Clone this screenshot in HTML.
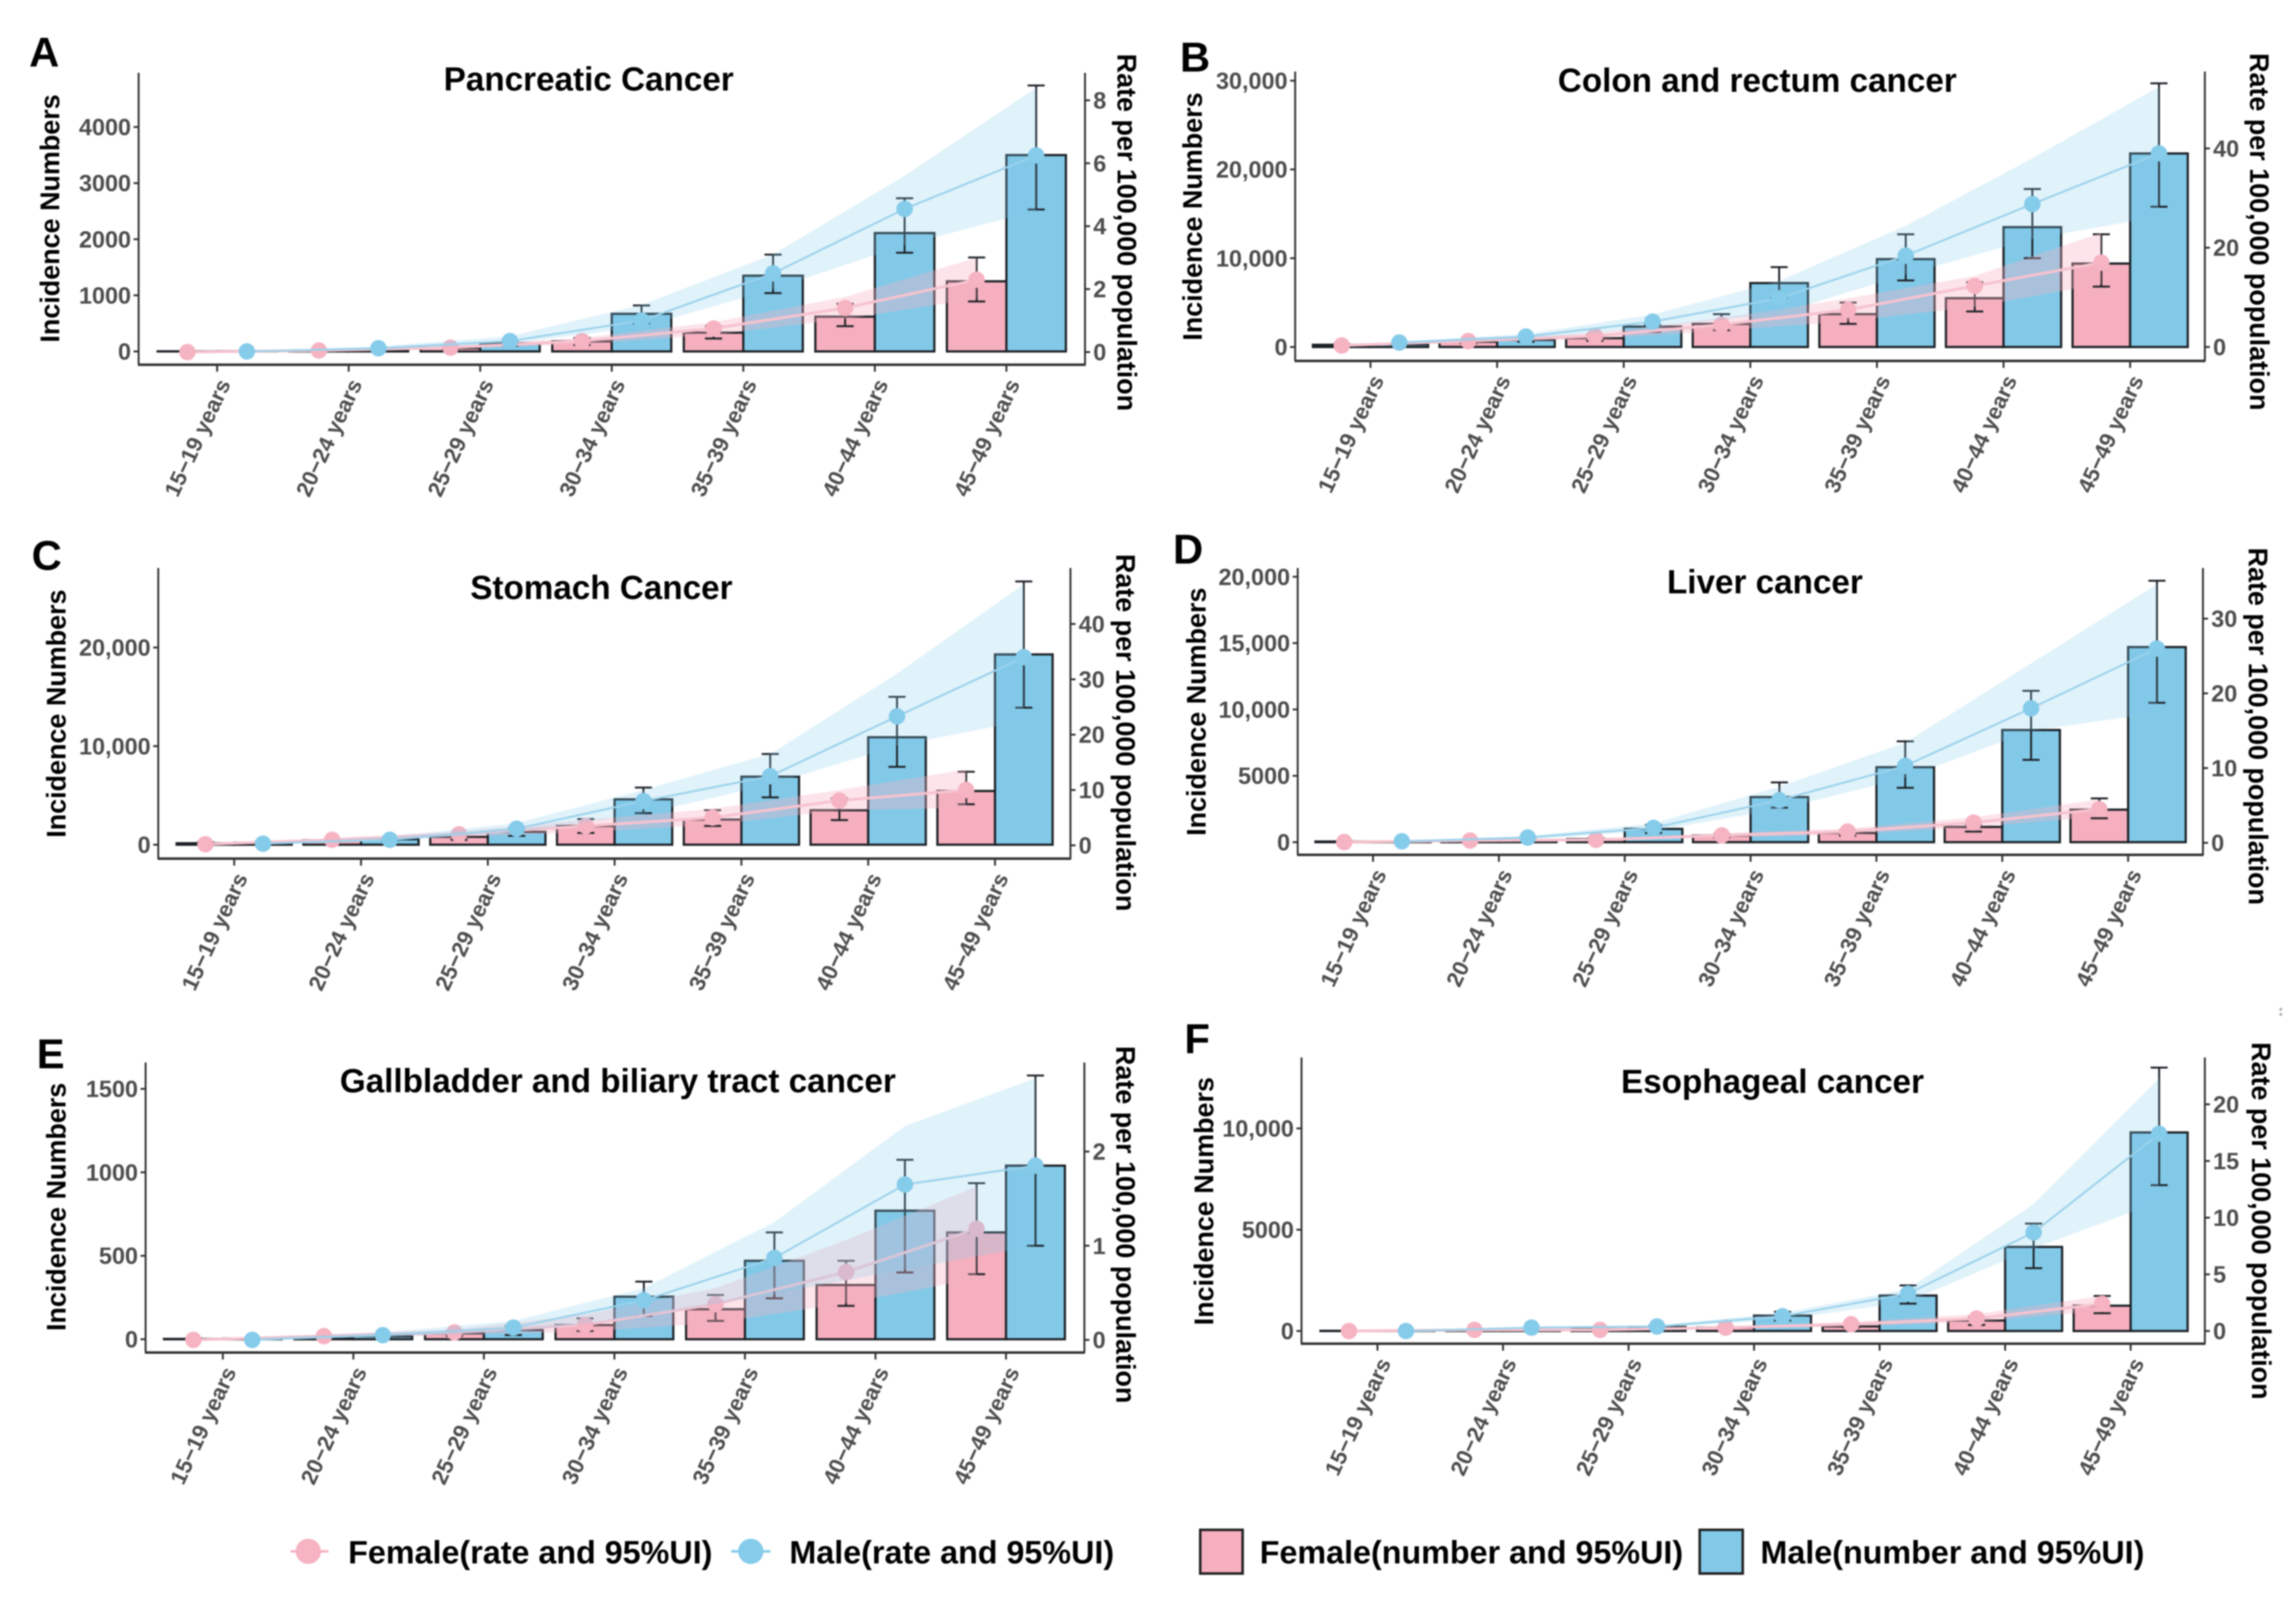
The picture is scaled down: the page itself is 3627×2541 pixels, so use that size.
<!DOCTYPE html>
<html lang="en">
<head>
<meta charset="utf-8">
<title>Cancer incidence by age group and sex</title>
<style>
html,body{margin:0;padding:0;background:#fff;}
svg{display:block;filter:blur(1px);}
text{font-family:"Liberation Sans",Arial,sans-serif;font-weight:bold;}
</style>
</head>
<body>
<svg id="figure" xmlns="http://www.w3.org/2000/svg" width="3627" height="2541" viewBox="0 0 3627 2541">
  <rect x="0" y="0" width="3627" height="2541" fill="#ffffff"/>
  <g fill="#aaaaaa">
    <rect x="3601" y="1592" width="4" height="4"/>
    <rect x="3601" y="1600" width="4" height="4"/>
  </g>
  <g id="panels"></g>
  <g>
    <g>
      <line x1="459" y1="2450" x2="519" y2="2450" stroke="#F6B3C2" stroke-width="4"/>
      <circle cx="487" cy="2450" r="20" fill="#F6B3C2"/>
      <text x="550" y="2469" font-size="51" fill="#000">Female(rate and 95%UI)</text>
    </g>
    <g>
      <line x1="1155" y1="2450" x2="1217" y2="2450" stroke="#85CBEA" stroke-width="4"/>
      <circle cx="1186" cy="2450" r="20" fill="#85CBEA"/>
      <text x="1247" y="2469" font-size="51" fill="#000">Male(rate and 95%UI)</text>
    </g>
    <g>
      <rect x="1896" y="2416" width="67" height="69" fill="#F5AFBE" stroke="#222" stroke-width="4"/>
      <text x="1990" y="2469" font-size="51" fill="#000">Female(number and 95%UI)</text>
    </g>
    <g>
      <rect x="2685" y="2416" width="68" height="69" fill="#82C9E8" stroke="#222" stroke-width="4"/>
      <text x="2781" y="2469" font-size="51" fill="#000">Male(number and 95%UI)</text>
    </g>
  </g>
</svg>
<script>
const categories = ["15−19 years","20−24 years","25−29 years","30−34 years","35−39 years","40−44 years","45−49 years"];

/* Panel A: Pancreatic cancer */
const aLeftTicks = [0,1000,2000,3000,4000];
const aRightTicks = [0,2,4,6,8];
const aFemaleNumber = [2,10,60,180,335,620,1250];
const aMaleNumber = [5,25,145,670,1350,2110,3500];
const aFemaleUpper = [5,15,80,240,450,850,1675];
const aFemaleLower = [1,5,40,115,230,450,890];
const aMaleUpper = [8,35,190,820,1725,2730,4740];
const aMaleLower = [2,15,100,500,1040,1760,2530];
const aFemaleRate = [0,0.05,0.14,0.35,0.75,1.4,2.3];
const aMaleRate = [0.02,0.12,0.35,1.0,2.5,4.55,6.25];
const aFemaleRateUpper = [0.01,0.08,0.2,0.45,0.95,1.75,3.0];
const aFemaleRateLower = [0,0.03,0.1,0.25,0.55,1.05,1.7];
const aMaleRateUpper = [0.03,0.18,0.5,1.5,3.1,5.6,8.4];
const aMaleRateLower = [0.01,0.08,0.27,0.8,2.0,3.4,4.5];

/* Panel B: Colon and rectum cancer */
const bLeftTicks = [0,10000,20000,30000];
const bRightTicks = [0,20,40];
const bFemaleNumber = [250,600,1000,2600,3700,5500,9400];
const bMaleNumber = [300,800,2300,7200,9900,13500,21800];
const bFemaleUpper = [300,800,1400,3700,5000,7300,12700];
const bFemaleLower = [150,400,700,1900,2600,4000,6800];
const bMaleUpper = [400,1000,2500,9000,12700,17800,29700];
const bMaleLower = [200,600,1700,5500,7500,10000,15800];
const bFemaleRate = [0.3,1.2,2.2,4.5,7.5,12.3,17];
const bMaleRate = [0.9,2.1,5.1,9.8,18.4,28.8,39];
const bFemaleRateUpper = [0.4,1.5,2.8,5.8,9.8,14.3,23];
const bFemaleRateLower = [0.2,0.9,1.6,3.3,5.2,8.1,12.7];
const bMaleRateUpper = [1.1,2.6,6.5,13.3,24.4,38,52.4];
const bMaleRateLower = [0.7,1.6,3.9,6.8,14.6,21.8,26.3];

/* Panel C: Stomach cancer */
const cLeftTicks = [0,10000,20000];
const cRightTicks = [0,10,20,30,40];
const cFemaleNumber = [150,450,800,1900,2550,3500,5450];
const cMaleNumber = [200,550,1300,4600,6900,10900,19300];
const cFemaleUpper = [250,500,1000,2600,3500,4700,7400];
const cFemaleLower = [100,300,500,1200,1900,2500,4100];
const cMaleUpper = [300,700,1700,5800,9200,15000,26700];
const cMaleLower = [150,400,900,3200,4800,7900,13900];
const cFemaleRate = [0.2,1,2,3.5,5,8.1,10];
const cMaleRate = [0.3,1,3,8,12.5,23.3,34];
const cFemaleRateUpper = [0.3,1.3,2.5,4.6,6.6,10,13.7];
const cFemaleRateLower = [0.1,0.7,1.5,2.4,3.7,6.3,6.8];
const cMaleRateUpper = [0.4,1.6,4,10,16.5,31,47.2];
const cMaleRateLower = [0.2,0.8,2.3,5.7,11,18,22.5];

/* Panel D: Liver cancer */
const dLeftTicks = [0,5000,10000,15000,20000];
const dRightTicks = [0,10,20,30];
const dFemaleNumber = [50,110,230,500,700,1150,2450];
const dMaleNumber = [50,150,1000,3400,5650,8450,14700];
const dFemaleUpper = [80,150,300,600,900,1300,3300];
const dFemaleLower = [30,70,150,350,500,800,1800];
const dMaleUpper = [80,300,1300,4500,7600,11400,19700];
const dMaleLower = [30,100,700,2600,4100,6200,10500];
const dFemaleRate = [0.1,0.3,0.4,1,1.5,2.7,4.5];
const dMaleRate = [0.2,0.7,2,5.7,10.3,18,26];
const dFemaleRateUpper = [0.15,0.4,0.5,1.3,1.9,3.4,5.8];
const dFemaleRateLower = [0.05,0.2,0.3,0.7,1.1,2.1,3.5];
const dMaleRateUpper = [0.3,0.9,2.6,7.5,13.4,24,34.6];
const dMaleRateLower = [0.1,0.5,1.6,4.5,8.7,15,17.4];

/* Panel E: Gallbladder and biliary tract cancer */
const eLeftTicks = [0,500,1000,1500];
const eRightTicks = [0,1,2];
const eFemaleNumber = [2,12,35,85,180,325,640];
const eMaleNumber = [4,18,55,255,470,770,1040];
const eFemaleUpper = [5,20,50,125,265,470,935];
const eFemaleLower = [1,6,20,50,110,200,390];
const eMaleUpper = [8,30,80,345,640,1075,1580];
const eMaleLower = [2,10,25,140,245,400,560];
const eFemaleRate = [0,0.04,0.08,0.16,0.38,0.72,1.18];
const eMaleRate = [0,0.05,0.13,0.42,0.87,1.65,1.85];
const eFemaleRateUpper = [0.01,0.06,0.11,0.27,0.55,1.06,1.63];
const eFemaleRateLower = [0,0.02,0.05,0.09,0.18,0.39,0.65];
const eMaleRateUpper = [0.02,0.08,0.2,0.55,1.25,2.27,2.78];
const eMaleRateLower = [0,0.03,0.08,0.25,0.49,0.75,1.0];

/* Panel F: Esophageal cancer */
const fLeftTicks = [0,5000,10000];
const fRightTicks = [0,5,10,15,20];
const fFemaleNumber = [10,40,90,170,230,520,1250];
const fMaleNumber = [15,60,200,760,1750,4150,9800];
const fFemaleUpper = [15,50,110,200,330,700,1730];
const fFemaleLower = [5,20,60,120,170,300,880];
const fMaleUpper = [25,90,260,950,2250,5300,13000];
const fMaleLower = [8,30,120,520,1350,3100,7200];
const fFemaleRate = [0,0.1,0.1,0.3,0.6,1.1,2.4];
const fMaleRate = [0,0.3,0.4,1.3,3.3,8.7,17.4];
const fFemaleRateUpper = [0,0.1,0.2,0.4,0.8,1.5,3.1];
const fFemaleRateLower = [0,0.05,0.05,0.2,0.4,0.8,1.8];
const fMaleRateUpper = [0.05,0.4,0.5,1.6,3.7,11.2,22.3];
const fMaleRateLower = [0,0.2,0.3,1,2.6,7.3,11.4];

const panelLetters = ["A","B","C","D","E","F"];
const panelTitles = ["Pancreatic Cancer","Colon and rectum cancer","Stomach Cancer","Liver cancer","Gallbladder and biliary tract cancer","Esophageal cancer"];
const leftAxisTitle = "Incidence Numbers";
const rightAxisTitle = "Rate per 100,000 population";

const panelData = [
  {lt:aLeftTicks,rt:aRightTicks,fn:aFemaleNumber,mn:aMaleNumber,fu:aFemaleUpper,fl:aFemaleLower,mu:aMaleUpper,ml:aMaleLower,fr:aFemaleRate,mr:aMaleRate,fru:aFemaleRateUpper,frl:aFemaleRateLower,mru:aMaleRateUpper,mrl:aMaleRateLower},
  {lt:bLeftTicks,rt:bRightTicks,fn:bFemaleNumber,mn:bMaleNumber,fu:bFemaleUpper,fl:bFemaleLower,mu:bMaleUpper,ml:bMaleLower,fr:bFemaleRate,mr:bMaleRate,fru:bFemaleRateUpper,frl:bFemaleRateLower,mru:bMaleRateUpper,mrl:bMaleRateLower},
  {lt:cLeftTicks,rt:cRightTicks,fn:cFemaleNumber,mn:cMaleNumber,fu:cFemaleUpper,fl:cFemaleLower,mu:cMaleUpper,ml:cMaleLower,fr:cFemaleRate,mr:cMaleRate,fru:cFemaleRateUpper,frl:cFemaleRateLower,mru:cMaleRateUpper,mrl:cMaleRateLower},
  {lt:dLeftTicks,rt:dRightTicks,fn:dFemaleNumber,mn:dMaleNumber,fu:dFemaleUpper,fl:dFemaleLower,mu:dMaleUpper,ml:dMaleLower,fr:dFemaleRate,mr:dMaleRate,fru:dFemaleRateUpper,frl:dFemaleRateLower,mru:dMaleRateUpper,mrl:dMaleRateLower},
  {lt:eLeftTicks,rt:eRightTicks,fn:eFemaleNumber,mn:eMaleNumber,fu:eFemaleUpper,fl:eFemaleLower,mu:eMaleUpper,ml:eMaleLower,fr:eFemaleRate,mr:eMaleRate,fru:eFemaleRateUpper,frl:eFemaleRateLower,mru:eMaleRateUpper,mrl:eMaleRateLower},
  {lt:fLeftTicks,rt:fRightTicks,fn:fFemaleNumber,mn:fMaleNumber,fu:fFemaleUpper,fl:fFemaleLower,mu:fMaleUpper,ml:fMaleLower,fr:fFemaleRate,mr:fMaleRate,fru:fFemaleRateUpper,frl:fFemaleRateLower,mru:fMaleRateUpper,mrl:fMaleRateLower}
];

/* Axis geometry for each panel (layout only). */
const panelLayouts = [
  {x0:219,x1:1714,top:115,bottom:576,first:343,step:207.8,half:94,y0L:555,kL:88.6/1000,y0R:556,kR:49.7,tx:930,ty:143,lx:46,ly:105,ytx:80,yty:345,rtx:1779,rty:367},
  {x0:2046,x1:3483,top:113,bottom:570,first:2165,step:200,half:91,y0L:548,kL:140.2/10000,y0R:548,kR:7.84,tx:2776,ty:145,lx:1864,ly:113,ytx:1885,yty:342,rtx:3568,rty:366},
  {x0:250,x1:1691,top:897,bottom:1356,first:370,step:200.3,half:91,y0L:1334,kL:155.7/10000,y0R:1335,kR:8.74,tx:950,ty:946,lx:50,ly:900,ytx:90,yty:1127,rtx:1777,rty:1157},
  {x0:2050,x1:3480,top:897,bottom:1350,first:2169,step:198.8,half:91,y0L:1330,kL:104.8/5000,y0R:1331,kR:11.8,tx:2788,ty:937,lx:1853,ly:890,ytx:1891,yty:1124,rtx:3566,rty:1147},
  {x0:230,x1:1713,top:1678,bottom:2136,first:352,step:206.2,half:93,y0L:2115,kL:131.8/500,y0R:2116,kR:148.7,tx:976,ty:1725,lx:58,ly:1687,ytx:90,yty:1906,rtx:1777,rty:1934},
  {x0:2056,x1:3483,top:1670,bottom:2122,first:2176,step:198.3,half:90,y0L:2102,kL:160/5000,y0R:2102,kR:17.9,tx:2800,ty:1726,lx:1871,ly:1663,ytx:1903,yty:1897,rtx:3571,rty:1928}
];

const FEMALE_BAR = "#F5AFBE", MALE_BAR = "#82C9E8", FEMALE_PT = "#F6B3C2", MALE_PT = "#85CBEA", INK = "#1c2126", GREY = "#4d4d4d";
const NS = "http://www.w3.org/2000/svg";

function mk(parent, tag, attrs, txt) {
  const el = document.createElementNS(NS, tag);
  for (const k in attrs) el.setAttribute(k, attrs[k]);
  if (txt !== undefined) el.textContent = txt;
  parent.appendChild(el);
  return el;
}
function fmt(v) {
  return v >= 10000 ? v.toLocaleString("en-US") : String(v);
}

const root = document.getElementById("panels");

panelData.forEach(function (d, p) {
  const L = panelLayouts[p];
  const xCat = function (i) { return L.first + i * L.step; };
  const yLeft = function (v) { return L.y0L - v * L.kL; };
  const yRight = function (v) { return L.y0R - v * L.kR; };
  const xF = function (i) { return xCat(i) - L.half / 2; };
  const xM = function (i) { return xCat(i) + L.half / 2; };

  const g = mk(root, "g", {});
  
  

  const letter = mk(g, "text", {x:L.lx, y:L.ly, "font-size":66, fill:"#000"}, panelLetters[p]);
  
  

  const title = mk(g, "text", {x:L.tx, y:L.ty, "font-size":52.5, fill:"#000", "text-anchor":"middle"}, panelTitles[p]);
  
  

  /* bars */
  categories.forEach(function (c, i) {
    const fb = mk(g, "rect", {x:xF(i)-L.half/2, y:yLeft(d.fn[i]), width:L.half, height:L.y0L-yLeft(d.fn[i]), fill:FEMALE_BAR, stroke:INK, "stroke-width":3.5});
    
    
    const mb = mk(g, "rect", {x:xM(i)-L.half/2, y:yLeft(d.mn[i]), width:L.half, height:L.y0L-yLeft(d.mn[i]), fill:MALE_BAR, stroke:INK, "stroke-width":3.5});
    
    
  });

  /* error bars */
  function errorBar(x, up, lo, name) {
    const e = mk(g, "path", {d:"M"+(x-13.5)+" "+yLeft(up)+"H"+(x+13.5)+"M"+x+" "+yLeft(up)+"V"+yLeft(lo)+"M"+(x-13.5)+" "+yLeft(lo)+"H"+(x+13.5), fill:"none", stroke:INK, "stroke-width":3});
    
    
  }
  categories.forEach(function (c, i) {
    errorBar(xF(i), d.fu[i], d.fl[i], 'error-bar-female');
    errorBar(xM(i), d.mu[i], d.ml[i], 'error-bar-male');
  });

  /* rate series: ribbon, line, points */
  function rateSeries(xf, rate, up, lo, color, lineColor, lineWidth, ribbonOpacity, sex) {
    let top = "", bot = "", ln = "";
    rate.forEach(function (v, i) {
      top += (i ? "L" : "M") + xf(i) + " " + yRight(up[i]);
      ln += (i ? "L" : "M") + xf(i) + " " + yRight(v);
    });
    for (let i = rate.length - 1; i >= 0; i--) bot += "L" + xf(i) + " " + yRight(lo[i]);
    const rib = mk(g, "path", {d:top + bot + "Z", fill:color, "fill-opacity":ribbonOpacity, stroke:"none"});
    
    
    const line = mk(g, "path", {d:ln, fill:"none", stroke:lineColor, "stroke-width":lineWidth});
    
    
    rate.forEach(function (v, i) {
      const pt = mk(g, "circle", {cx:xf(i), cy:yRight(v), r:13, fill:color});
      
      
    });
  }
  rateSeries(xF, d.fr, d.fru, d.frl, FEMALE_PT, "#F7C3CF", 4.5, 0.35, 'female');
  rateSeries(xM, d.mr, d.mru, d.mrl, MALE_PT, "#9AD2EC", 3, 0.25, 'male');

  /* axis lines */
  const la = mk(g, "line", {x1:L.x0, x2:L.x0, y1:L.top, y2:L.bottom, stroke:"#333", "stroke-width":3});
  
  
  const ra = mk(g, "line", {x1:L.x1, x2:L.x1, y1:L.top, y2:L.bottom, stroke:"#333", "stroke-width":3});
  
  
  const ba = mk(g, "line", {x1:L.x0-1, x2:L.x1+1, y1:L.bottom, y2:L.bottom, stroke:"#333", "stroke-width":4});
  
  

  /* left ticks */
  d.lt.forEach(function (v) {
    const t = mk(g, "line", {x1:L.x0-8, x2:L.x0, y1:yLeft(v), y2:yLeft(v), stroke:"#333", "stroke-width":3});
    
    
    const lb = mk(g, "text", {x:L.x0-12, y:yLeft(v)+13, "font-size":37, fill:GREY, "text-anchor":"end"}, fmt(v));
    
    
  });

  /* right ticks */
  d.rt.forEach(function (v) {
    const t = mk(g, "line", {x1:L.x1, x2:L.x1+8, y1:yRight(v), y2:yRight(v), stroke:"#333", "stroke-width":3});
    
    
    const lb = mk(g, "text", {x:L.x1+13, y:yRight(v)+13, "font-size":37, fill:GREY}, fmt(v));
    
    
  });

  /* category ticks and labels */
  categories.forEach(function (c, i) {
    const t = mk(g, "line", {x1:xCat(i), x2:xCat(i), y1:L.bottom, y2:L.bottom+11, stroke:"#333", "stroke-width":3});
    
    
    const ax = xCat(i) + 22, ay = L.bottom + 30;
    const lb = mk(g, "text", {x:ax, y:ay, "font-size":35, fill:GREY, "text-anchor":"end", transform:"rotate(-65 "+ax+" "+ay+")"}, c);
    
    
  });

  /* axis titles */
  const yt = mk(g, "text", {x:L.ytx, y:L.yty, "font-size":42.5, fill:"#000", "text-anchor":"middle", "dominant-baseline":"central", transform:"rotate(-90 "+L.ytx+" "+L.yty+")"}, leftAxisTitle);
  
  
  const rt = mk(g, "text", {x:L.rtx, y:L.rty, "font-size":42.5, fill:"#000", "text-anchor":"middle", "dominant-baseline":"central", transform:"rotate(90 "+L.rtx+" "+L.rty+")"}, rightAxisTitle);
  
  
});
</script>
</body>
</html>
